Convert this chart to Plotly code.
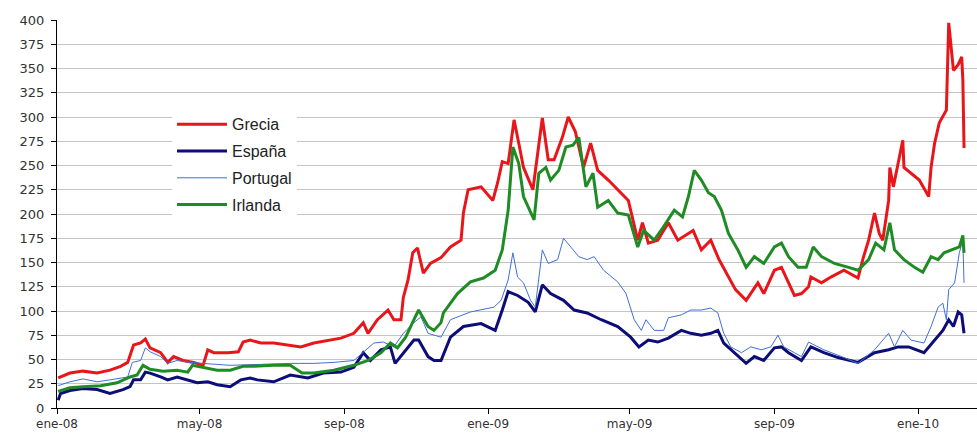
import plotly.graph_objects as go

# ---- Data ----
grecia_dates = ["2008-01-02","2008-01-12","2008-01-23","2008-02-04","2008-02-15","2008-02-24","2008-03-01","2008-03-06","2008-03-12","2008-03-16","2008-03-20","2008-03-29","2008-04-04","2008-04-09","2008-04-17","2008-04-26","2008-05-04","2008-05-08","2008-05-13","2008-05-25","2008-06-03","2008-06-07","2008-06-13","2008-06-22","2008-07-03","2008-07-17","2008-07-26","2008-08-06","2008-08-18","2008-08-29","2008-09-09","2008-09-17","2008-09-21","2008-09-29","2008-10-08","2008-10-13","2008-10-19","2008-10-21","2008-10-25","2008-10-29","2008-11-02","2008-11-07","2008-11-13","2008-11-22","2008-11-30","2008-12-09","2008-12-11","2008-12-15","2008-12-26","2009-01-05","2009-01-09","2009-01-13","2009-01-18","2009-01-23","2009-01-27","2009-01-31","2009-02-08","2009-02-16","2009-02-21","2009-02-26","2009-03-05","2009-03-10","2009-03-16","2009-03-23","2009-03-29","2009-04-04","2009-04-13","2009-04-21","2009-04-30","2009-05-08","2009-05-12","2009-05-17","2009-05-25","2009-06-03","2009-06-11","2009-06-20","2009-06-24","2009-07-01","2009-07-09","2009-07-16","2009-07-24","2009-07-30","2009-08-08","2009-08-14","2009-08-18","2009-08-23","2009-09-01","2009-09-07","2009-09-13","2009-09-18","2009-09-24","2009-09-30","2009-10-02","2009-10-11","2009-10-19","2009-10-30","2009-11-11","2009-11-15","2009-11-20","2009-11-25","2009-11-29","2009-12-02","2009-12-07","2009-12-08","2009-12-11","2009-12-15","2009-12-19","2009-12-20","2009-12-26","2010-01-02","2010-01-10","2010-01-12","2010-01-15","2010-01-19","2010-01-25","2010-01-27","2010-01-31","2010-02-04","2010-02-07","2010-02-08","2010-02-09"]
grecia_vals = [31,36,38,36,39,43,47,65,67,71,62,57,47,53,49,47,44,60,57,57,58,68,70,67,67,65,63,67,70,72,77,88,77,91,101,91,91,114,132,160,165,139,149,155,166,173,201,225,228,214,232,254,252,297,273,248,225,299,256,256,279,300,285,248,273,245,235,225,214,173,191,170,173,191,173,180,183,163,173,153,135,122,111,122,129,118,142,145,129,116,118,125,135,129,135,142,134,153,173,201,180,173,214,248,228,252,276,248,242,235,218,248,273,294,307,397,348,354,362,338,268]

espana_dates = ["2008-01-02","2008-01-04","2008-01-12","2008-01-23","2008-02-04","2008-02-15","2008-02-26","2008-03-03","2008-03-06","2008-03-12","2008-03-16","2008-03-20","2008-03-29","2008-04-04","2008-04-12","2008-04-21","2008-04-29","2008-05-08","2008-05-16","2008-05-27","2008-06-05","2008-06-13","2008-06-19","2008-07-03","2008-07-17","2008-08-01","2008-08-14","2008-08-29","2008-09-09","2008-09-17","2008-09-23","2008-10-02","2008-10-10","2008-10-14","2008-10-21","2008-10-30","2008-11-03","2008-11-11","2008-11-16","2008-11-22","2008-11-30","2008-12-11","2008-12-26","2009-01-07","2009-01-13","2009-01-18","2009-01-26","2009-02-04","2009-02-10","2009-02-16","2009-02-23","2009-03-06","2009-03-15","2009-03-26","2009-04-07","2009-04-21","2009-05-02","2009-05-09","2009-05-17","2009-05-25","2009-06-03","2009-06-14","2009-06-22","2009-07-01","2009-07-09","2009-07-15","2009-07-20","2009-07-29","2009-08-08","2009-08-15","2009-08-23","2009-09-01","2009-09-07","2009-09-13","2009-09-24","2009-10-02","2009-10-13","2009-10-25","2009-11-11","2009-11-25","2009-12-07","2009-12-15","2009-12-24","2010-01-06","2010-01-15","2010-01-22","2010-01-27","2010-01-31","2010-02-04","2010-02-07","2010-02-09"]
espana_vals = [8,15,18,20,19,15,19,22,29,29,37,36,32,29,32,29,26,27,24,22,29,31,29,27,34,31,36,37,42,57,49,60,63,46,57,70,70,53,49,49,73,84,87,80,101,120,116,109,99,127,118,111,101,98,91,84,73,63,70,68,72,80,77,75,77,80,67,57,46,53,49,62,63,57,49,63,57,52,47,57,60,63,63,57,70,80,91,84,99,96,77]

portugal_dates = ["2008-01-02","2008-01-12","2008-01-23","2008-02-04","2008-02-15","2008-03-01","2008-03-05","2008-03-12","2008-03-16","2008-03-20","2008-03-29","2008-04-04","2008-04-12","2008-04-23","2008-05-04","2008-05-27","2008-06-22","2008-07-17","2008-08-06","2008-08-23","2008-09-09","2008-09-17","2008-09-26","2008-10-04","2008-10-13","2008-10-21","2008-10-30","2008-11-05","2008-11-11","2008-11-22","2008-11-30","2008-12-17","2009-01-06","2009-01-12","2009-01-18","2009-01-22","2009-01-26","2009-01-31","2009-02-06","2009-02-10","2009-02-16","2009-02-21","2009-03-01","2009-03-06","2009-03-12","2009-03-19","2009-03-26","2009-04-01","2009-04-09","2009-04-21","2009-04-28","2009-05-05","2009-05-11","2009-05-15","2009-05-22","2009-05-30","2009-06-03","2009-06-14","2009-06-22","2009-07-01","2009-07-09","2009-07-15","2009-07-20","2009-07-26","2009-08-04","2009-08-12","2009-08-21","2009-08-29","2009-09-04","2009-09-09","2009-09-18","2009-09-24","2009-09-30","2009-10-13","2009-10-28","2009-11-11","2009-11-25","2009-12-07","2009-12-12","2009-12-19","2009-12-26","2010-01-06","2010-01-12","2010-01-18","2010-01-22","2010-01-25","2010-01-27","2010-02-01","2010-02-05","2010-02-08","2010-02-09"]
portugal_vals = [23,27,30,27,29,32,47,49,62,58,53,46,49,47,46,44,45,46,46,47,49,57,67,68,63,77,88,94,77,73,91,99,104,111,132,160,135,129,111,104,163,149,153,175,166,156,153,156,142,130,118,91,80,91,80,80,93,96,101,101,103,98,77,63,57,63,60,63,75,63,57,53,68,60,53,46,60,77,63,80,70,67,84,104,108,91,122,129,160,173,129]

irlanda_dates = ["2008-01-02","2008-01-12","2008-01-23","2008-02-07","2008-02-21","2008-03-03","2008-03-09","2008-03-14","2008-03-20","2008-03-31","2008-04-12","2008-04-21","2008-04-25","2008-05-04","2008-05-16","2008-05-27","2008-06-07","2008-06-16","2008-07-03","2008-07-17","2008-07-27","2008-08-06","2008-08-23","2008-09-09","2008-09-21","2008-10-02","2008-10-10","2008-10-16","2008-10-23","2008-10-30","2008-11-03","2008-11-11","2008-11-16","2008-11-22","2008-11-24","2008-12-06","2008-12-17","2008-12-28","2009-01-07","2009-01-13","2009-01-18","2009-01-22","2009-01-27","2009-01-31","2009-02-09","2009-02-13","2009-02-19","2009-02-23","2009-03-02","2009-03-08","2009-03-14","2009-03-19","2009-03-25","2009-03-31","2009-04-04","2009-04-13","2009-04-21","2009-04-30","2009-05-08","2009-05-13","2009-05-22","2009-05-30","2009-06-08","2009-06-15","2009-06-20","2009-06-25","2009-07-01","2009-07-07","2009-07-12","2009-07-18","2009-07-24","2009-08-01","2009-08-08","2009-08-15","2009-08-23","2009-09-01","2009-09-07","2009-09-13","2009-09-21","2009-09-28","2009-10-04","2009-10-11","2009-10-22","2009-11-03","2009-11-11","2009-11-20","2009-11-26","2009-12-03","2009-12-08","2009-12-12","2009-12-20","2009-12-29","2010-01-05","2010-01-12","2010-01-18","2010-01-23","2010-01-29","2010-02-05","2010-02-08","2010-02-09"]
irlanda_vals = [17,21,22,23,26,32,34,44,40,38,39,37,44,42,39,39,43,43,44,44,36,36,39,44,49,57,67,62,73,91,101,84,80,88,98,118,130,134,142,163,204,269,252,218,194,242,248,235,245,269,271,279,228,242,207,214,201,199,166,183,173,187,204,197,218,245,235,222,218,204,180,163,145,156,149,166,170,156,145,145,166,156,149,145,142,153,170,163,191,163,153,145,140,156,153,160,163,166,178,160]

series_names = ["Grecia", "España", "Portugal", "Irlanda"]
series_colors = ["#e8161b", "#0d0d78", "#3f6fd8", "#1f8b24"]
series_widths = [3, 3, 1, 3]

tick_dates = ["2008-01-01", "2008-05-01", "2008-09-01", "2009-01-01",
              "2009-05-01", "2009-09-01", "2010-01-01"]
tick_labels = ["ene-08", "may-08", "sep-08", "ene-09", "may-09", "sep-09", "ene-10"]

y_ticks = list(range(0, 401, 25))

fig = go.Figure()
all_dates = [grecia_dates, espana_dates, portugal_dates, irlanda_dates]
all_vals = [grecia_vals, espana_vals, portugal_vals, irlanda_vals]
for name, d, v, c, w in zip(series_names, all_dates, all_vals, series_colors, series_widths):
    fig.add_trace(go.Scatter(x=d, y=v, mode="lines", name=name, legendgroup=name,
                             line=dict(color=c, width=w)))

fig.update_layout(
    width=977, height=435,
    margin=dict(l=57, r=0, t=20, b=27),
    paper_bgcolor="white", plot_bgcolor="white",
    font=dict(family="DejaVu Sans", size=13, color="#333333"),
    showlegend=True,
    legend=dict(x=0.125, y=0.775, xanchor="left", yanchor="top",
                bgcolor="white", font=dict(family="Liberation Sans", size=16, color="#222222"),
                tracegroupgap=3, itemwidth=50),
)
fig.update_xaxes(
    type="date", range=["2008-01-01", "2010-02-20"],
    tickmode="array", tickvals=tick_dates, ticktext=tick_labels,
    showgrid=False, showline=True, linecolor="black", linewidth=1,
    ticks="outside", ticklen=5, tickcolor="black",
    tickfont=dict(size=12), zeroline=False,
)
fig.update_yaxes(
    range=[0, 400], tickmode="array", tickvals=y_ticks,
    showgrid=True, gridcolor="#c4c4c4", gridwidth=1,
    showline=True, linecolor="black", linewidth=1,
    ticks="outside", ticklen=5, tickcolor="black",
    tickfont=dict(size=13), zeroline=False,
    ticklabelstandoff=4,
)

fig.write_html("out.html")
